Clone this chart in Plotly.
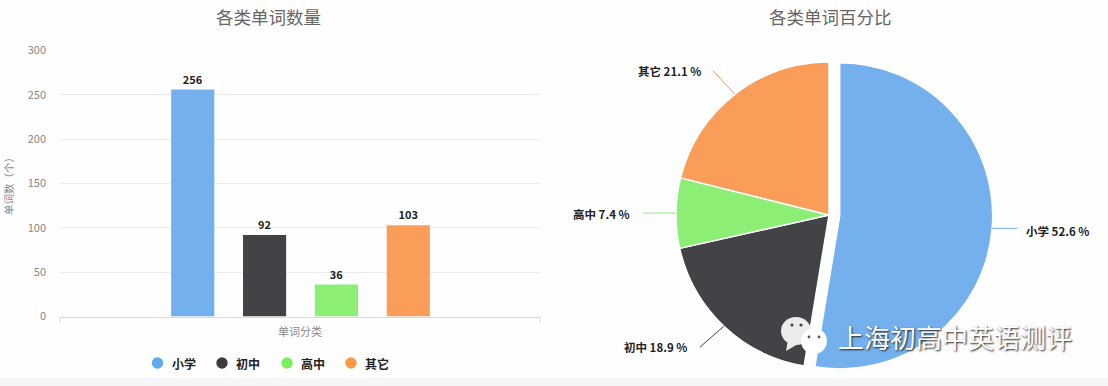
import math
import plotly.graph_objects as go

W, H = 1108, 386
categories = ["小学", "初中", "高中", "其它"]
counts = [256, 92, 36, 103]
percents = [52.6, 18.9, 7.4, 21.1]
bar_colors = ["#74b0ee", "#424347", "#8cee75", "#f99d59"]
legend_colors = ["#5fabf3", "#3d3d40", "#7aee5e", "#fb9a45"]
y_ticks = [0, 50, 100, 150, 200, 250, 300]

FONT = "Noto Sans CJK SC"


def px(x):
    return x / W


def py(y):
    return 1 - y / H


fig = go.Figure()
fig.add_bar(
    x=categories, y=counts, marker=dict(color=bar_colors, line=dict(width=0)),
    text=[str(v) for v in counts], textposition="outside", cliponaxis=False,
    textfont=dict(family=FONT, size=11, color="#222", weight="bold"),
    width=0.6, showlegend=False,
)

# pie: centre (829,215), r = 153, pull .07
pull = [0.07, 0, 0, 0]
cx, cy, r = 829, 215, 153
half = r * 1.07
fig.add_pie(
    labels=categories, values=percents, sort=False, direction="clockwise", rotation=0,
    marker=dict(colors=bar_colors, line=dict(color="#ffffff", width=1.5)),
    pull=pull, textinfo="none", showlegend=False,
    domain=dict(x=[px(cx - half), px(cx + half)], y=[py(cy + half), py(cy - half)]),
)

shapes = [
    dict(type="rect", xref="paper", yref="paper", x0=0, x1=1, y0=0, y1=py(378),
         fillcolor="#f5f6f8", line=dict(width=0), layer="below"),
    dict(type="line", xref="paper", yref="paper", x0=px(60), x1=px(60), y0=py(316.5), y1=py(323),
         line=dict(color="#d5d9e4", width=1)),
    dict(type="line", xref="paper", yref="paper", x0=px(540), x1=px(540), y0=py(316.5), y1=py(323),
         line=dict(color="#d5d9e4", width=1)),
]
annotations = []


def note(text, x, y, size=11, color="#333", weight="normal", angle=0, shadow=None, xanchor="center"):
    font = dict(family=FONT, size=size, color=color, weight=weight)
    if shadow:
        font["shadow"] = shadow
    annotations.append(dict(text=text, x=px(x), y=py(y), xref="paper", yref="paper", showarrow=False,
                            xanchor=xanchor, yanchor="middle", font=font, textangle=angle))


def circle(x, y, rx, ry, col):
    return dict(type="circle", xref="paper", yref="paper", x0=px(x - rx), x1=px(x + rx),
                y0=py(y + ry), y1=py(y - ry), fillcolor=col, line=dict(width=0))


note("各类单词数量", 268.5, 16, 17.5, "#666")
note("各类单词百分比", 830, 16, 17.5, "#666")
note("单词数（个）", 9, 184, 10.5, "#888", angle=-90)
note("单词分类", 300, 331, 11, "#888")

# legend row
legend_x = [157.5, 222, 287, 351]
for name, col, lx in zip(categories, legend_colors, legend_x):
    shapes.append(circle(lx, 363, 5.7, 5.7, col))
    note(name, lx + 12, 363.5, 12, "#222", "bold", xanchor="left")

# leader lines + labels, computed from slice mid-angles
offsets = [((25, 0), (32, 3)), ((-24, 21), (-35, 21)), ((-33, 0), (-44, 1)), ((-22, -24), (-32, -23))]
anchors = ["left", "right", "right", "right"]
cum = 0
for i, (name, pct) in enumerate(zip(categories, percents)):
    mid = math.radians((cum + pct / 2) * 3.6)
    cum += pct
    p = pull[i] * r
    sx = cx + (r + p) * math.sin(mid)
    sy = cy - (r + p) * math.cos(mid)
    (dx, dy), (tx, ty) = offsets[i]
    shapes.append(dict(type="line", xref="paper", yref="paper", x0=px(sx), y0=py(sy),
                       x1=px(sx + dx), y1=py(sy + dy), line=dict(color=bar_colors[i], width=1)))
    note(f"{name} {pct} %", sx + tx, sy + ty, 11.5, "#222", "bold", xanchor=anchors[i])

# watermark icon
shapes += [
    circle(796, 331, 15, 14, "#ececec"),
    dict(type="path", xref="paper", yref="paper",
         path=f"M {px(788)} {py(340)} L {px(786)} {py(351)} L {px(798)} {py(344)} Z",
         fillcolor="#ececec", line=dict(width=0)),
    circle(792, 325, 1.6, 1.6, "#444"), circle(801, 325, 1.6, 1.6, "#444"),
    circle(814, 341, 13, 13, "#ffffff"),
    circle(809, 337, 1.4, 1.4, "#555"), circle(819, 337, 1.4, 1.4, "#555"),
]
note("上海初高中英语测评", 955, 336, 26, "#ffffff", shadow="1px 1px 2px #222")

fig.update_layout(
    template="none",
    width=W, height=H, margin=dict(l=0, r=0, t=0, b=0),
    paper_bgcolor="#fefefe", plot_bgcolor="rgba(0,0,0,0)",
    font=dict(family=FONT), showlegend=False,
    xaxis=dict(domain=[px(60), px(540)], type="category", categoryorder="array", categoryarray=categories,
               range=[-1.847, 4.833], showticklabels=False, ticks="", showgrid=False, automargin=False,
               showline=True, linecolor="#d5d9e4", linewidth=1, zeroline=False),
    yaxis=dict(domain=[py(316.5), py(50.5)], range=[0, 300], tickvals=y_ticks, showgrid=True, automargin=False,
               gridcolor="#ebecf2", gridwidth=1, zeroline=False, ticks="", showline=False,
               tickfont=dict(family=FONT, size=11, color="#888"), ticklabelstandoff=13),
    shapes=shapes, annotations=annotations,
)

fig.write_html("out.html", config=dict(displayModeBar=False),
               post_script="document.body.style.margin='0';document.body.style.overflow='hidden';")
